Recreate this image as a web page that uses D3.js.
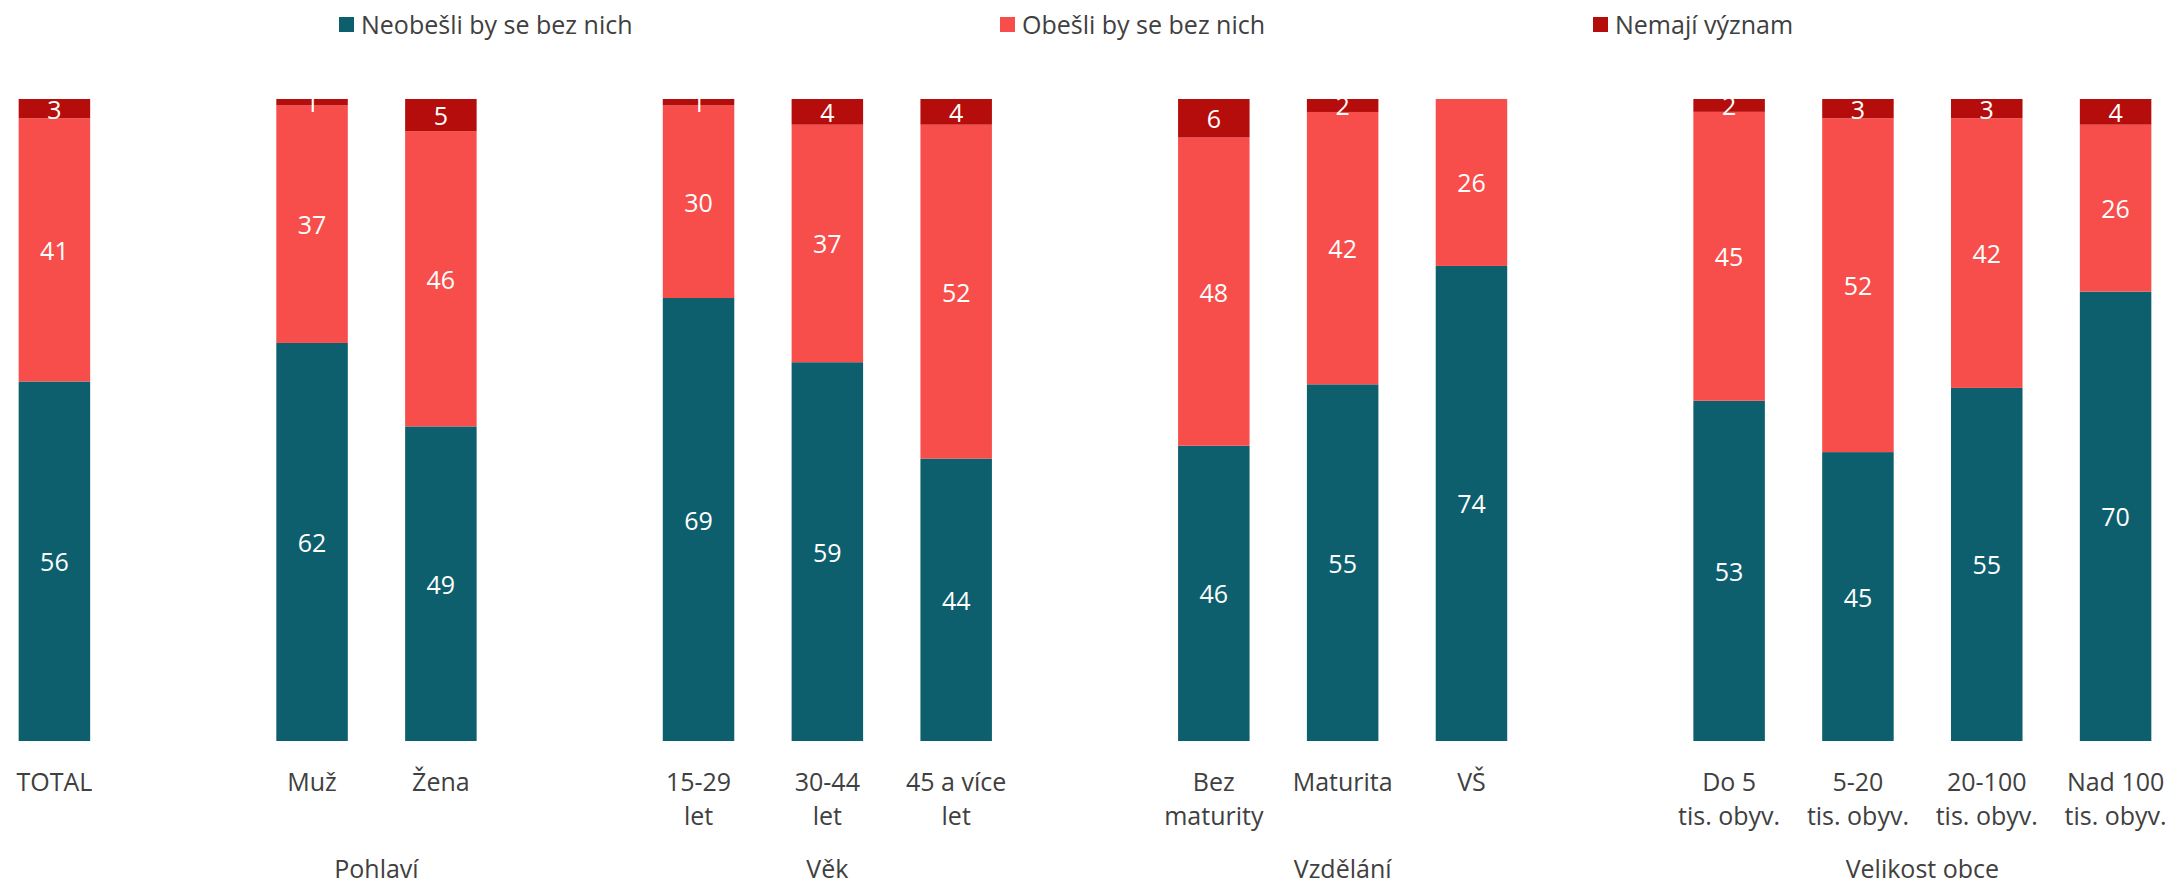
<!DOCTYPE html>
<html>
<head>
<meta charset="utf-8">
<script src="https://cdn.jsdelivr.net/npm/d3@7"></script>
<style>
  html, body { margin: 0; padding: 0; background: #fff; }
  svg { display: block; }
  text { font-family: "Segoe UI", "Open Sans", "Noto Sans", sans-serif; }
</style>
</head>
<body>
<svg id="chart" width="2172" height="886"></svg>
<script>
// ---- data ----
const seriesNames = ["Neobešli by se bez nich", "Obešli by se bez nich", "Nemají význam"];
const categories = ["TOTAL", "Muž", "Žena", "15-29 let", "30-44 let", "45 a více let",
  "Bez maturity", "Maturita", "VŠ", "Do 5 tis. obyv.", "5-20 tis. obyv.", "20-100 tis. obyv.", "Nad 100 tis. obyv."];
const tickLabels = [["TOTAL"], ["Muž"], ["Žena"], ["15-29", "let"], ["30-44", "let"], ["45 a více", "let"],
  ["Bez", "maturity"], ["Maturita"], ["VŠ"], ["Do 5", "tis. obyv."], ["5-20", "tis. obyv."], ["20-100", "tis. obyv."], ["Nad 100", "tis. obyv."]];
const groupNames = ["", "Pohlaví", "Věk", "Vzdělání", "Velikost obce"];
const categoryGroup = [0, 1, 1, 2, 2, 2, 3, 3, 3, 4, 4, 4, 4];
const neobesli = [56, 62, 49, 69, 59, 44, 46, 55, 74, 53, 45, 55, 70];
const obesli   = [41, 37, 46, 30, 37, 52, 48, 42, 26, 45, 52, 42, 26];
const nemaji   = [3, 1, 5, 1, 4, 4, 6, 2, 0, 2, 3, 3, 4];
const colors = ["#0d5f6e", "#f74e4b", "#b50d0b"];

// ---- build table ----
const table = categories.map((c, i) => ({
  cat: c, group: categoryGroup[i],
  [seriesNames[0]]: neobesli[i], [seriesNames[1]]: obesli[i], [seriesNames[2]]: nemaji[i]
}));

// slots: a blank spacer slot between groups
const slots = [];
table.forEach((d, i) => {
  if (i > 0 && d.group !== table[i - 1].group) slots.push("__gap" + d.group);
  slots.push(d.cat);
});

const svg = d3.select("#chart");
const plotTop = 99, plotBottom = 741;

const x = d3.scaleBand().domain(slots).range([-10, 2180]).paddingInner(0.445).paddingOuter(0.2225);
const y = d3.scaleLinear().domain([0, 1]).range([plotBottom, plotTop]);

const stack = d3.stack().keys(seriesNames).offset(d3.stackOffsetExpand);
const stacked = stack(table);

svg.append("defs").append("clipPath").attr("id", "plotclip")
  .append("rect").attr("x", 0).attr("y", plotTop).attr("width", 2172).attr("height", plotBottom - plotTop);

const layers = svg.append("g").selectAll("g").data(stacked).join("g")
  .attr("fill", (d, i) => colors[i]);

layers.selectAll("rect").data(d => d).join("rect")
  .attr("x", d => x(d.data.cat))
  .attr("width", x.bandwidth())
  .attr("y", d => y(d[1]))
  .attr("height", d => Math.max(0, y(d[0]) - y(d[1])));

// data labels
const labelsG = svg.append("g").attr("clip-path", "url(#plotclip)");
stacked.forEach((layer, si) => {
  labelsG.append("g").selectAll("text").data(layer.filter(d => d.data[layer.key] > 0)).join("text")
    .attr("x", d => x(d.data.cat) + x.bandwidth() / 2)
    .attr("y", d => (y(d[0]) + y(d[1])) / 2 + 10)
    .attr("text-anchor", "middle")
    .attr("fill", "#fff")
    .attr("font-size", 25)
    .text(d => d.data[layer.key]);
});

// category tick labels
const ticks = svg.append("g");
table.forEach((d, i) => {
  const t = ticks.append("text")
    .attr("x", x(d.cat) + x.bandwidth() / 2)
    .attr("y", 791)
    .attr("text-anchor", "middle")
    .attr("fill", "#404040")
    .attr("font-size", 25);
  tickLabels[i].forEach((line, li) => {
    t.append("tspan").attr("x", x(d.cat) + x.bandwidth() / 2).attr("dy", li === 0 ? 0 : 34).text(line);
  });
});

// group labels
groupNames.forEach((g, gi) => {
  if (!g) return;
  const members = table.filter(d => d.group === gi);
  const x0 = x(members[0].cat), x1 = x(members[members.length - 1].cat) + x.bandwidth();
  svg.append("text")
    .attr("x", (x0 + x1) / 2)
    .attr("y", 878)
    .attr("text-anchor", "middle")
    .attr("fill", "#404040")
    .attr("font-size", 25)
    .text(g);
});

// legend
const legendX = [339, 1000, 1593];
const legend = svg.append("g");
seriesNames.forEach((s, i) => {
  const g = legend.append("g").attr("transform", `translate(${legendX[i]},0)`);
  g.append("rect").attr("x", 0).attr("y", 17).attr("width", 15).attr("height", 15).attr("fill", colors[i]);
  g.append("text").attr("x", 22).attr("y", 34).attr("fill", "#404040").attr("font-size", 25).text(s);
});
</script>
</body>
</html>
